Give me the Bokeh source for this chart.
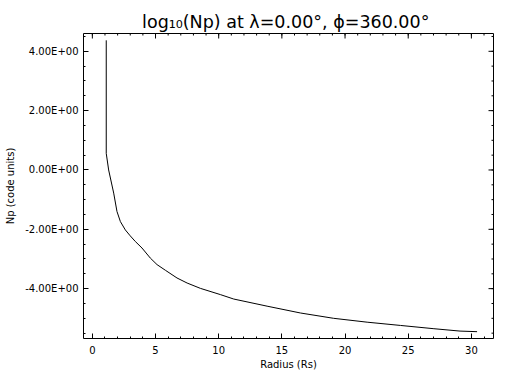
import math
from bokeh.plotting import figure
from bokeh.models import Range1d, LinearAxis, FixedTicker, CustomJSTickFormatter
from bokeh.embed import file_html
from bokeh.resources import INLINE

# Data
radius = [1.1, 1.1, 1.29, 1.69, 1.95, 2.22, 2.61, 3.0, 3.40, 3.93, 4.59, 5.12, 5.78,
          6.70, 7.50, 8.55, 10.13, 11.19, 13.83, 16.47, 19.1, 21.75, 24.39, 27.03, 29.1, 30.45]
log_np = [4.37, 0.56, 0.0, -0.78, -1.40, -1.74, -2.02, -2.22, -2.41, -2.63, -2.97, -3.19, -3.38,
          -3.64, -3.81, -3.99, -4.20, -4.35, -4.59, -4.82, -5.0, -5.13, -5.24, -5.35, -5.43, -5.45]

x_major = [0, 5, 10, 15, 20, 25, 30]
x_minor = list(range(0, 32))
y_major = [-4, -2, 0, 2, 4]
y_minor = [v * 0.5 for v in range(-11, 10)]

X_START, X_END = -0.7, 31.75
Y_START, Y_END = -5.68, 4.6

FONT = "DejaVu Sans"

p = figure(width=496, height=372, output_backend="svg", toolbar_location=None,
           x_range=Range1d(X_START, X_END), y_range=Range1d(Y_START, Y_END),
           x_axis_location=None, y_axis_location=None,
           min_border_left=83, min_border_right=3, min_border_top=33, min_border_bottom=33,
           title="log\u2081\u2080(Np)  at \u03bb=0.00\u00b0, \u03d5=360.00\u00b0")
p.title.align = "center"
p.title.text_font = FONT
p.title.text_font_size = "17.5px"
p.title.text_font_style = "normal"
p.title.text_color = "black"
p.title.standoff = 3
p.xgrid.visible = False
p.ygrid.visible = False
p.outline_line_color = "black"
p.outline_line_width = 1
p.background_fill_color = "white"
p.border_fill_color = "white"

fmt = CustomJSTickFormatter(code="""
    if (Math.abs(tick) < 1e-12) { return "0.00E+00"; }
    let e = Math.floor(Math.log10(Math.abs(tick)));
    let m = tick / Math.pow(10, e);
    if (Math.abs(m) >= 9.995) { m = m / 10; e = e + 1; }
    const es = (e < 0 ? "-" : "+") + String(Math.abs(e)).padStart(2, "0");
    return m.toFixed(2) + "E" + es;
""")

def style(ax):
    ax.axis_line_color = None
    ax.major_tick_in = 5
    ax.major_tick_out = 0
    ax.minor_tick_in = 2
    ax.minor_tick_out = 0
    ax.major_tick_line_color = "black"
    ax.minor_tick_line_color = "black"
    ax.major_label_text_font = FONT
    ax.major_label_text_color = "black"
    ax.major_label_text_font_size = "10px"
    ax.axis_label_text_font = FONT
    ax.axis_label_text_font_style = "normal"
    ax.axis_label_text_color = "black"
    ax.axis_label_text_font_size = "10px"

xt = FixedTicker(ticks=x_major, minor_ticks=x_minor)
yt = FixedTicker(ticks=y_major, minor_ticks=y_minor)

xb = LinearAxis(ticker=xt, axis_label="Radius (Rs)")
style(xb)
xb.major_label_standoff = 7
xb.axis_label_standoff = 2
p.add_layout(xb, "below")

yl = LinearAxis(ticker=yt, formatter=fmt, axis_label="Np (code units)")
style(yl)
yl.major_label_standoff = 5
yl.axis_label_standoff = 6
p.add_layout(yl, "left")

# mirrored inward ticks on the top and right edges (clipped to the frame)
p.scatter(x_major, [Y_END] * len(x_major), marker="dash", angle=math.pi / 2,
          size=10, line_color="black", line_width=1)
p.scatter(x_minor, [Y_END] * len(x_minor), marker="dash", angle=math.pi / 2,
          size=4, line_color="black", line_width=1)
p.scatter([X_END] * len(y_major), y_major, marker="dash",
          size=10, line_color="black", line_width=1)
p.scatter([X_END] * len(y_minor), y_minor, marker="dash",
          size=4, line_color="black", line_width=1)

p.line(radius, log_np, line_color="black", line_width=1)

open("out.html", "w").write(file_html(p, INLINE))
